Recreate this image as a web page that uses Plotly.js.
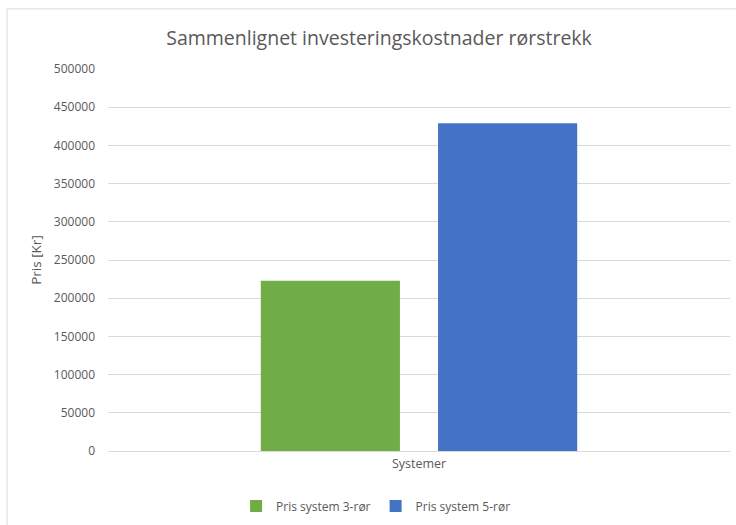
<!DOCTYPE html>
<html>
<head>
<meta charset="utf-8">
<script src="https://cdn.plot.ly/plotly-3.0.1.min.js"></script>
<style>
  html, body { margin: 0; padding: 0; background: #ffffff; }
  #chart { width: 736px; height: 525px; }
</style>
</head>
<body>
<div id="chart"></div>
<script>
// Data
const category = [0];
const seriesNames = ["Pris system 3-rør", "Pris system 5-rør"];
const price3 = [223000];
const price5 = [429000];
const yTicks = [0, 50000, 100000, 150000, 200000, 250000, 300000, 350000, 400000, 450000, 500000];

const fontFam = "Open Sans, Noto Sans, sans-serif";
const grey = "#595959";

const traces = [
  { type: "bar", x: category, y: price3, name: seriesNames[0], marker: { color: "#70AD47" }, hoverinfo: "y" },
  { type: "bar", x: category, y: price5, name: seriesNames[1], marker: { color: "#4472C4" }, hoverinfo: "y" }
];

const layout = {
  width: 736, height: 525,
  paper_bgcolor: "#ffffff", plot_bgcolor: "#ffffff",
  margin: { l: 108, r: 6, t: 69, b: 74, autoexpand: false },
  barmode: "group", bargap: 0.43, bargroupgap: 0.215,
  showlegend: true,
  title: { text: "Sammenlignet investeringskostnader rørstrekk", font: { family: fontFam, size: 19.5, color: grey }, x: 0.515, xanchor: "center", y: 0.928, yanchor: "middle" },
  font: { family: fontFam, size: 12, color: grey },
  xaxis: {
    range: [-0.5, 0.5], showticklabels: false, showgrid: false, zeroline: false,
    showline: true, linecolor: "#D9D9D9", linewidth: 1, ticks: "",
    title: { text: "Systemer", font: { family: fontFam, size: 12.5, color: grey }, standoff: 8 }
  },
  yaxis: {
    range: [0, 500000], tickvals: yTicks, ticktext: yTicks.map(String),
    showgrid: true, gridcolor: "#D9D9D9", gridwidth: 1, zeroline: false, showline: false,
    ticks: "", ticklabelstandoff: 12, tickfont: { family: fontFam, size: 12, color: grey },
    title: { text: "Pris [Kr]", font: { family: fontFam, size: 13.5, color: grey }, standoff: 9 }
  },
  legend: {
    orientation: "h", x: 0.431, xanchor: "center", yref: "container", y: 0.036, yanchor: "middle",
    font: { family: fontFam, size: 12, color: grey }, itemwidth: 30, traceorder: "normal"
  },
  shapes: [
    { type: "line", xref: "paper", yref: "paper", x0: -101/622, x1: 1.2, y0: 1 + 60/381.5, y1: 1 + 60/381.5, line: { color: "#D9D9D9", width: 1 } },
    { type: "line", xref: "paper", yref: "paper", x0: -101/622, x1: -101/622, y0: 1 + 60/381.5, y1: -0.4, line: { color: "#D9D9D9", width: 1 } }
  ]
};

Plotly.newPlot("chart", traces, layout, { displayModeBar: false, staticPlot: true });
</script>
</body>
</html>
